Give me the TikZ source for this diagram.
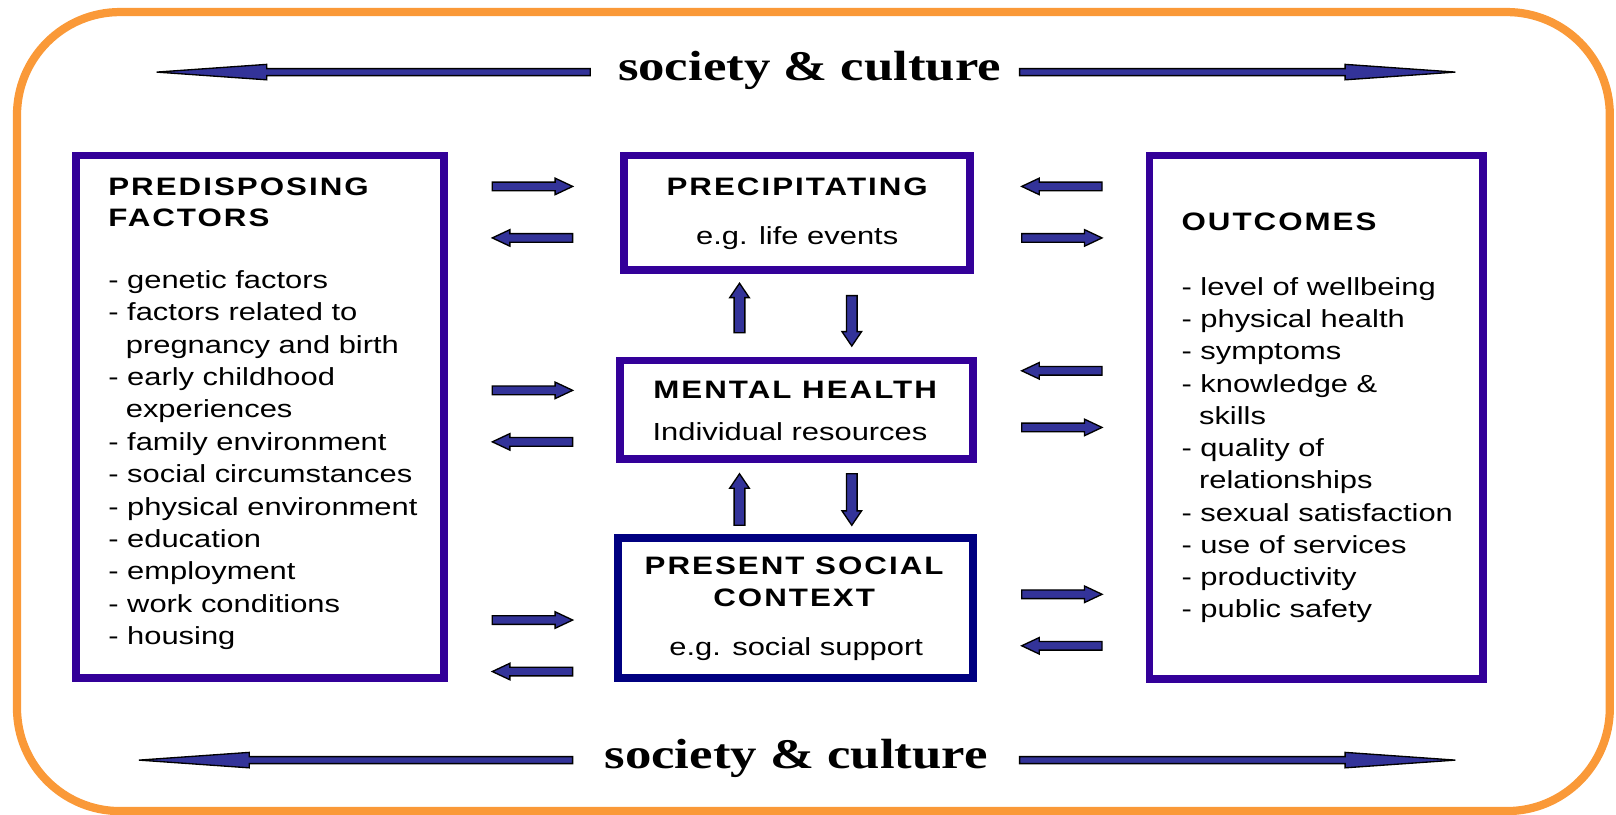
\documentclass[tikz,border=0pt]{standalone}
\usepackage{fontspec}
\setmainfont{Liberation Sans}[FakeStretch=1.25]
\newfontfamily\hfont{Liberation Sans}[FakeStretch=1.24,LetterSpace=8]
\newfontfamily\sfont{Liberation Serif}[FakeStretch=1.25]
\usetikzlibrary{calc}
\definecolor{borange}{RGB}{250,153,56}
\definecolor{bpurple}{RGB}{51,0,153}
\definecolor{bnavy}{RGB}{0,0,128}
\definecolor{arrfill}{RGB}{51,51,153}
\tikzset{
  blk/.style n args={3}{draw=black, fill=arrfill, line width=1.3pt, line join=miter,
    to path={($(\tikztostart)!#1!90:(\tikztotarget)$)
      -- ($(\tikztotarget)!#3!(\tikztostart)!#1!-90:(\tikztostart)$)
      -- ($(\tikztotarget)!#3!(\tikztostart)!#2!-90:(\tikztostart)$)
      -- (\tikztotarget)
      -- ($(\tikztotarget)!#3!(\tikztostart)!#2!90:(\tikztostart)$)
      -- ($(\tikztotarget)!#3!(\tikztostart)!#1!90:(\tikztostart)$)
      -- ($(\tikztostart)!#1!-90:(\tikztotarget)$) -- cycle}},
  sarrow/.style={blk={4.2pt}{8pt}{17pt}},
  varrow/.style={blk={5.2pt}{9.5pt}{14pt}},
  barrow/.style={blk={3.4pt}{7.5pt}{107pt}},
  box/.style={draw=bpurple, line width=7.5pt},
  txt/.style={inner sep=0pt, anchor=base west, font=\fontsize{24}{29}\selectfont},
  ctxt/.style={inner sep=0pt, anchor=base, font=\fontsize{24}{29}\selectfont},
  hd/.style={inner sep=0pt, anchor=base west, font=\hfont\bfseries\fontsize{24.5}{29}\selectfont},
  chd/.style={inner sep=0pt, anchor=base, font=\hfont\bfseries\fontsize{24.5}{29}\selectfont},
  soc/.style={inner sep=0pt, anchor=base, font=\sfont\bfseries\fontsize{41}{48}\selectfont},
}
\begin{document}
\begin{tikzpicture}[x=1pt,y=1pt]
\useasboundingbox (0,0) rectangle (1569,-791.3);
% outer frame
\draw[borange, line width=8pt, rounded corners=100pt] (16.5,-11.7) rectangle (1563,-787.5);

% society & culture
\node[soc] (soctop) at (786,-78) {society \& culture};
\node[soc] (socbot) at (773,-746) {society \& culture};
\coordinate (tl1) at (573,-70);  \coordinate (tl2) at (152,-70);
\coordinate (tr1) at (990,-70);  \coordinate (tr2) at (1413,-70);
\coordinate (bl1) at (556,-738); \coordinate (bl2) at (135,-738);
\coordinate (br1) at (990,-738); \coordinate (br2) at (1413,-738);
\draw[barrow] (tl1) to (tl2);
\draw[barrow] (tr1) to (tr2);
\draw[barrow] (bl1) to (bl2);
\draw[barrow] (br1) to (br2);

% boxes
\draw[box] (74,-151) rectangle (431,-658);
\draw[box] (1116,-151) rectangle (1440,-659);
\draw[box] (606,-151) rectangle (942,-262);
\draw[box] (602,-350) rectangle (945,-446);
\draw[box, draw=bnavy] (600,-522) rectangle (945,-658);

% predisposing
\node[hd] (pre1) at (105,-190) {PREDISPOSING};
\node[hd] (pre2) at (105,-220) {FACTORS};
\node[txt] (p0) at (105,-280.0) {- genetic factors};
\node[txt] (p1) at (105,-311.5) {- factors related to};
\node[txt] (p2) at (122,-342.9) {pregnancy and birth};
\node[txt] (p3) at (105,-374.4) {- early childhood};
\node[txt] (p4) at (122,-405.8) {experiences};
\node[txt] (p5) at (105,-437.3) {- family environment};
\node[txt] (p6) at (105,-468.7) {- social circumstances};
\node[txt] (p7) at (105,-500.2) {- physical environment};
\node[txt] (p8) at (105,-531.6) {- education};
\node[txt] (p9) at (105,-563.1) {- employment};
\node[txt] (p10) at (105,-594.5) {- work conditions};
\node[txt] (p11) at (105,-626.0) {- housing};

% center boxes text
\node[chd] (prec) at (774,-190) {PRECIPITATING};
\node[ctxt] (precs) at (774,-237) {e.g. life events};
\node[chd] (mh) at (772,-387) {MENTAL HEALTH};
\node[ctxt] (mhs) at (767,-428) {Individual resources};
\node[chd] (ps1) at (771,-558) {PRESENT SOCIAL};
\node[chd] (ps2) at (771,-589) {CONTEXT};
\node[ctxt] (pss) at (773,-636) {e.g. social support};

% outcomes
\node[hd] (out) at (1147,-224) {OUTCOMES};
\node[txt] (o0) at (1147,-286.5) {- level of wellbeing};
\node[txt] (o1) at (1147,-317.9) {- physical health};
\node[txt] (o2) at (1147,-349.2) {- symptoms};
\node[txt] (o3) at (1147,-380.6) {- knowledge \&};
\node[txt] (o4) at (1164,-411.9) {skills};
\node[txt] (o5) at (1147,-443.3) {- quality of};
\node[txt] (o6) at (1164,-474.6) {relationships};
\node[txt] (o7) at (1147,-506.0) {- sexual satisfaction};
\node[txt] (o8) at (1147,-537.3) {- use of services};
\node[txt] (o9) at (1147,-568.7) {- productivity};
\node[txt] (o10) at (1147,-600.0) {- public safety};

% small horizontal arrows, left column
\foreach \y [count=\i] in {181,379,602} {
  \coordinate (lr\i a) at (478,-\y); \coordinate (lr\i b) at (556,-\y);
  \draw[sarrow] (lr\i a) to (lr\i b);
}
\foreach \y [count=\i] in {231,429,652} {
  \coordinate (ll\i a) at (556,-\y); \coordinate (ll\i b) at (478,-\y);
  \draw[sarrow] (ll\i a) to (ll\i b);
}
% right column
\foreach \y [count=\i] in {181,360,627} {
  \coordinate (rl\i a) at (1070,-\y); \coordinate (rl\i b) at (992,-\y);
  \draw[sarrow] (rl\i a) to (rl\i b);
}
\foreach \y [count=\i] in {231,415,577} {
  \coordinate (rr\i a) at (992,-\y); \coordinate (rr\i b) at (1070,-\y);
  \draw[sarrow] (rr\i a) to (rr\i b);
}
% vertical arrows
\coordinate (u1a) at (718,-323); \coordinate (u1b) at (718,-275);
\coordinate (d1a) at (827,-287); \coordinate (d1b) at (827,-336);
\coordinate (u2a) at (718,-510); \coordinate (u2b) at (718,-460);
\coordinate (d2a) at (827,-460); \coordinate (d2b) at (827,-510);
\draw[varrow] (u1a) to (u1b);
\draw[varrow] (d1a) to (d1b);
\draw[varrow] (u2a) to (u2b);
\draw[varrow] (d2a) to (d2b);
\end{tikzpicture}
\end{document}
